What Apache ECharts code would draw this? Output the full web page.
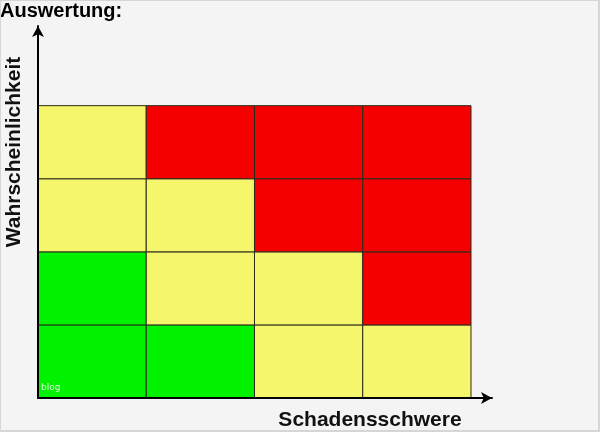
<!DOCTYPE html>
<html>
<head>
<meta charset="utf-8">
<script src="https://cdn.jsdelivr.net/npm/echarts@6/dist/echarts.min.js"></script>
<style>
html,body{margin:0;padding:0;background:#f4f4f4;}
#c{width:600px;height:432px;box-sizing:border-box;border:1px solid #d6d6d6;border-right-width:2px;border-bottom-width:2px;}
</style>
</head>
<body>
<div id="c"></div>
<script>
// Risk matrix: columns = Schadensschwere (1..4), rows = Wahrscheinlichkeit (1..4, bottom to top)
const schadensschwere = [1, 2, 3, 4];
const wahrscheinlichkeit = [1, 2, 3, 4];
// levels per row (bottom row first), per column left to right
const row1 = ['gruen', 'gruen', 'gelb', 'gelb'];
const row2 = ['gruen', 'gelb', 'gelb', 'rot'];
const row3 = ['gelb', 'gelb', 'rot', 'rot'];
const row4 = ['gelb', 'rot', 'rot', 'rot'];
const levelColors = { gruen: '#00f200', gelb: '#f6f66c', rot: '#f50000' };

const rows = [row1, row2, row3, row4];
const data = [];
rows.forEach((r, ri) => r.forEach((lvl, ci) => data.push([schadensschwere[ci] - 1, wahrscheinlichkeit[ri] - 1, lvl])));

const chart = echarts.init(document.getElementById('c'), null, { renderer: 'canvas' });
const axisCommon = {
  type: 'value', min: 0, z: 10,
  axisLine: { show: true, lineStyle: { color: '#000', width: 2 }, symbol: ['none', 'arrow'], symbolSize: [9, 11] },
  axisTick: { show: false }, axisLabel: { show: false }, splitLine: { show: false }
};
chart.setOption({
  backgroundColor: '#f4f4f4',
  animation: false,
  title: {
    text: 'Auswertung:', left: -1, top: 0, padding: 0,
    textStyle: { fontFamily: 'Liberation Sans, Arial, sans-serif', fontWeight: 'bold', fontSize: 20, color: '#000' }
  },
  grid: { left: 37, right: 106, top: 25, bottom: 32 },
  xAxis: Object.assign({}, axisCommon, { max: 4.194 }),
  yAxis: Object.assign({}, axisCommon, { max: 5.09 }),
  series: [{
    type: 'custom',
    data: data,
    renderItem: function (params, api) {
      const x = api.value(0), y = api.value(1);
      const p0 = api.coord([x, y + 1]);
      const p1 = api.coord([x + 1, y]);
      return {
        type: 'rect',
        shape: { x: p0[0], y: p0[1], width: p1[0] - p0[0], height: p1[1] - p0[1] },
        style: { fill: levelColors[api.value(2)], stroke: '#2b2b1a', lineWidth: 1 }
      };
    },
    encode: { x: 0, y: 1 }
  }],
  graphic: [
    { type: 'text', x: 13, y: 151, rotation: Math.PI / 2,
      style: { text: 'Wahrscheinlichkeit', align: 'center', verticalAlign: 'middle',
        font: 'bold 21px "Liberation Sans", Arial, sans-serif', fill: '#111' } },
    { type: 'text', x: 369, y: 419,
      style: { text: 'Schadensschwere', align: 'center', verticalAlign: 'middle',
        font: 'bold 21px "Liberation Sans", Arial, sans-serif', fill: '#111' } },
    { type: 'text', x: 40, y: 387, z: 20,
      style: { text: 'blog', align: 'left', verticalAlign: 'middle',
        font: '9px "DejaVu Sans", sans-serif', fill: '#d8ffd8' } }
  ]
});
</script>
</body>
</html>
